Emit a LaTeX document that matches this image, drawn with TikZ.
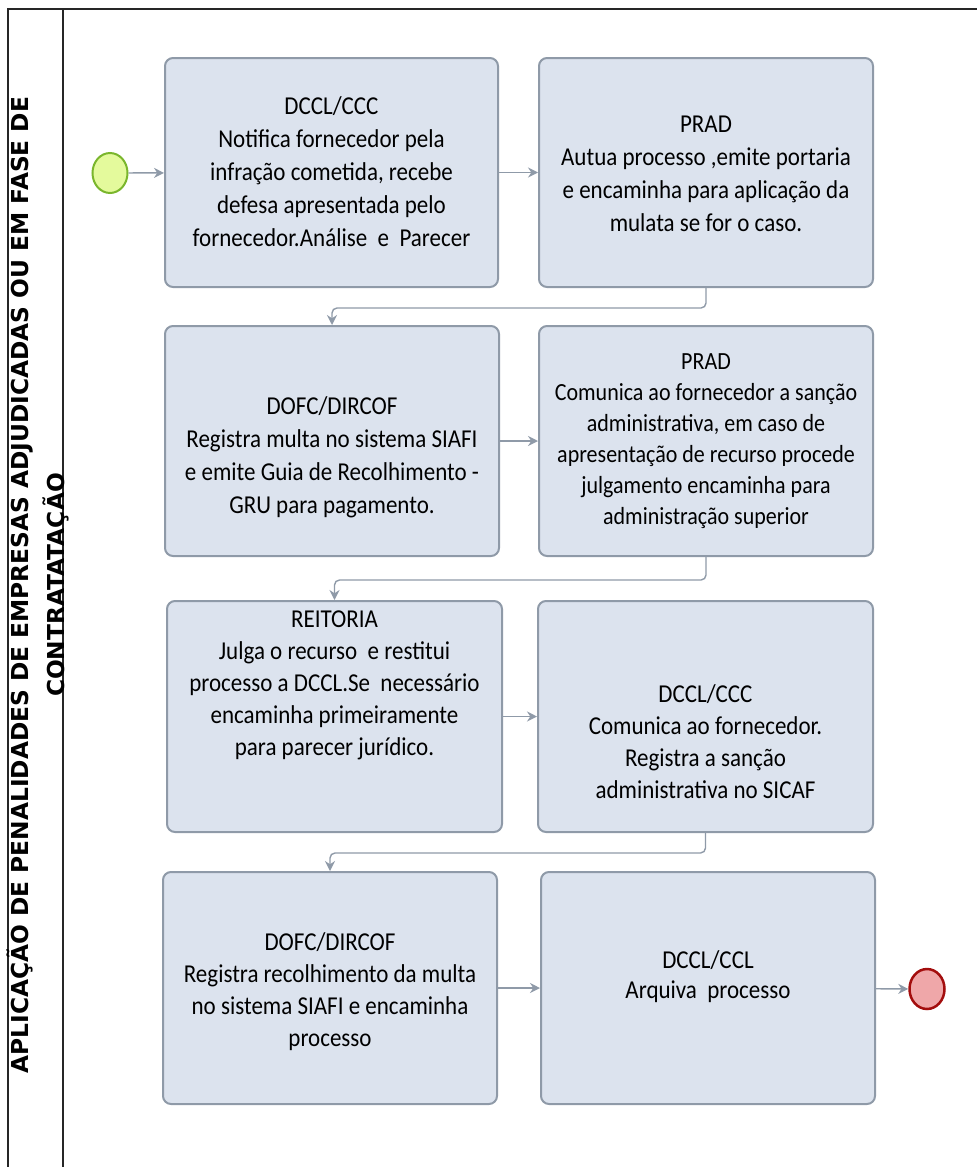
\documentclass[tikz,border=0pt]{standalone}
\usepackage{graphicx}
\usepackage{fontspec}
\setmainfont{Carlito}
\newfontfamily\lanefont{DejaVu Sans}
\usetikzlibrary{arrows.meta,shapes.geometric}
\definecolor{boxfill}{HTML}{DCE3EE}
\definecolor{boxline}{HTML}{8F9AA8}
\definecolor{startfill}{HTML}{E4FA9C}
\definecolor{startline}{HTML}{7AB62C}
\definecolor{endfill}{HTML}{EFA7A9}
\definecolor{endline}{HTML}{A30D0D}
\newcommand{\boxtext}[1]{\scalebox{1}[1.12]{\parbox{330pt}{\centering #1}}}
\tikzset{
  task/.style={draw=boxline, fill=boxfill, line width=2pt, rounded corners=8pt, inner sep=0pt},
  txt/.style={align=center, inner sep=0pt, font=\fontsize{23}{29.5}\selectfont},
  flow/.style={draw=boxline, line width=1.4pt, rounded corners=5pt, -{Stealth[length=10pt,width=10pt]}},
  frame/.style={draw=black!85, line width=1.4pt},
}
\begin{document}
\begin{tikzpicture}[x=1pt,y=-1pt]
\useasboundingbox (0,0) rectangle (977,1167);
% lane frame
\draw[frame] (8,1167) -- (8,9) -- (977,9);
\draw[frame] (63,9) -- (63,1167);
\node[rotate=90, align=center, inner sep=0pt, font=\lanefont\bfseries\fontsize{23.3}{36}\selectfont] (lane) at (38,585)
  {APLICAÇÃO DE PENALIDADES DE EMPRESAS ADJUDICADAS OU EM FASE DE\\CONTRATATAÇÃO};
% tasks
\node[task, minimum width=333pt, minimum height=229pt] (A) at (331.5,172.5) {};
\node[task, minimum width=334pt, minimum height=229pt] (B) at (706,172.5) {};
\node[task, minimum width=334pt, minimum height=230pt] (C) at (332,441) {};
\node[task, minimum width=334pt, minimum height=230pt] (D) at (706,441) {};
\node[task, minimum width=335pt, minimum height=231pt] (E) at (334.5,716.5) {};
\node[task, minimum width=335pt, minimum height=231pt] (F) at (705.5,716.5) {};
\node[task, minimum width=334pt, minimum height=232pt] (G) at (330,988) {};
\node[task, minimum width=334pt, minimum height=232pt] (H) at (708,988) {};
% texts
\node[txt] (tA) at (331.5,172) {\boxtext{DCCL/CCC\\Notifica fornecedor pela\\infração cometida, recebe\\defesa apresentada pelo\\fornecedor.Análise\ \ e\ \ Parecer}};
\node[txt] (tB) at (706,174) {\boxtext{PRAD\\Autua processo ,emite portaria\\e encaminha para aplicação da\\mulata se for o caso.}};
\node[txt] (tC) at (332,457) {\boxtext{DOFC/DIRCOF\\Registra multa no sistema SIAFI\\e emite Guia de Recolhimento -\\GRU para pagamento.}};
\node[txt, font=\fontsize{22}{27.7}\selectfont] (tD) at (706,441) {\boxtext{PRAD\\Comunica ao fornecedor a sanção\\administrativa, em caso de\\apresentação de recurso procede\\julgamento encaminha para\\administração superior}};
\node[txt, font=\fontsize{23}{28.6}\selectfont] (tE) at (334.5,685) {\boxtext{REITORIA\\Julga o recurso\ \ e restitui\\processo a DCCL.Se\ \ necessário\\encaminha primeiramente\\para parecer jurídico.}};
\node[txt, font=\fontsize{23}{28.6}\selectfont] (tF) at (705.5,742) {\boxtext{DCCL/CCC\\Comunica ao fornecedor.\\Registra a sanção\\administrativa no SICAF}};
\node[txt, font=\fontsize{23}{28.6}\selectfont] (tG) at (330,992) {\boxtext{DOFC/DIRCOF\\Registra recolhimento da multa\\no sistema SIAFI e encaminha\\processo}};
\node[txt, font=\fontsize{23}{26.8}\selectfont] (tH) at (708,977) {\boxtext{DCCL/CCL\\Arquiva\ \ processo}};
% events
\node[ellipse, draw=startline, fill=startfill, line width=2pt, minimum width=35pt, minimum height=40pt, inner sep=0pt] (start) at (110,173) {};
\node[ellipse, draw=endline, fill=endfill, line width=2.5pt, minimum width=35pt, minimum height=40pt, inner sep=0pt] (end) at (927,989) {};
% flows
\draw[flow] (start) -- (A);
\draw[flow] (A) -- (B);
\draw[flow] (B.south) -- ++(0,20) -| (C.north);
\draw[flow] (C) -- (D);
\draw[flow] (D.south) -- ++(0,23) -| (E.north);
\draw[flow] (E) -- (F);
\draw[flow] (F.south) -- ++(0,20) -| (G.north);
\draw[flow] (G) -- (H);
\draw[flow] (H) -- (end);
\end{tikzpicture}
\end{document}
